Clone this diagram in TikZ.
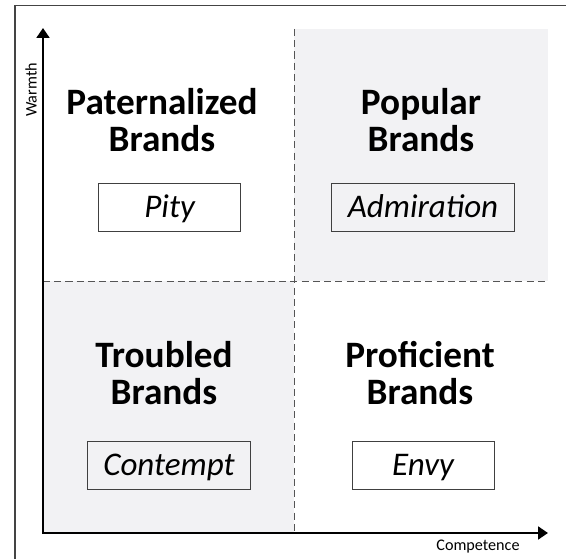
\documentclass[tikz,border=0pt]{standalone}
\usepackage{fontspec}
\setmainfont{Carlito}
\usetikzlibrary{arrows.meta}
\definecolor{qgray}{HTML}{F2F2F4}
\definecolor{dgray}{HTML}{555555}
\definecolor{fgray}{HTML}{444444}

\begin{document}
\begin{tikzpicture}[line join=miter,
  quadname/.style={font=\fontsize{26.5}{26}\selectfont\bfseries, align=center},
  feelbox/.style={draw=black!75, line width=0.7pt, font=\fontsize{23.5}{24}\selectfont\itshape,
    minimum width=3.55cm, minimum height=1.2cm, inner xsep=0.4cm, text height=20pt, text depth=5pt},
  axislabel/.style={font=\fontsize{11.5}{12}\selectfont}]
  \useasboundingbox (0,0) rectangle (14.15,13.975);
  % ---------- frame ----------
  \draw[fgray, line width=0.8pt] (0.375,0) -- (0.375,13.84) -- (14.15,13.84);

  % ---------- shaded quadrants and dividers ----------
  \def\ox{1.075} \def\oy{0.65}
  \def\mx{7.35} \def\my{6.95}
  \def\ex{13.7} \def\ey{13.25}
  \fill[qgray] (\mx,\my) rectangle (\ex,\ey);
  \fill[qgray] (\ox,\oy) rectangle (\mx,\my);
  \draw[dgray, line width=0.7pt, dash pattern=on 5pt off 3pt] (\mx,\ey) -- (\mx,\oy);
  \draw[dgray, line width=0.7pt, dash pattern=on 5pt off 3pt] (\ox,\my) -- (\ex,\my);

  % ---------- axes ----------
  \coordinate (origin) at (\ox,\oy);
  \coordinate (wtip) at (\ox,13.275);
  \coordinate (ctip) at (\ex,\oy);
  \draw[line width=1.9pt, {Triangle[length=7pt,width=9pt]}-{Triangle[length=7pt,width=9pt]}]
    (wtip) -- (origin) -- (ctip);
  \node[axislabel, rotate=90] (warmth) at (0.775,11.725) {Warmth};
  \node[axislabel] (competence) at (11.95,0.3) {Competence};

  % ---------- quadrants ----------
  \node[quadname] (paternal) at (4.05,10.975) {Paternalized\\Brands};
  \node[quadname] (popular) at (10.525,10.975) {Popular\\Brands};
  \node[quadname] (troubled) at (4.1,4.65) {Troubled\\Brands};
  \node[quadname] (proficient) at (10.5,4.65) {Proficient\\Brands};

  \node[feelbox] (pity) at (4.24,8.8) {Pity};
  \node[feelbox] (admiration) at (10.575,8.8) {Admiration};
  \node[feelbox] (contempt) at (4.225,2.35) {Contempt};
  \node[feelbox] (envy) at (10.575,2.35) {Envy};
\end{tikzpicture}
\end{document}
